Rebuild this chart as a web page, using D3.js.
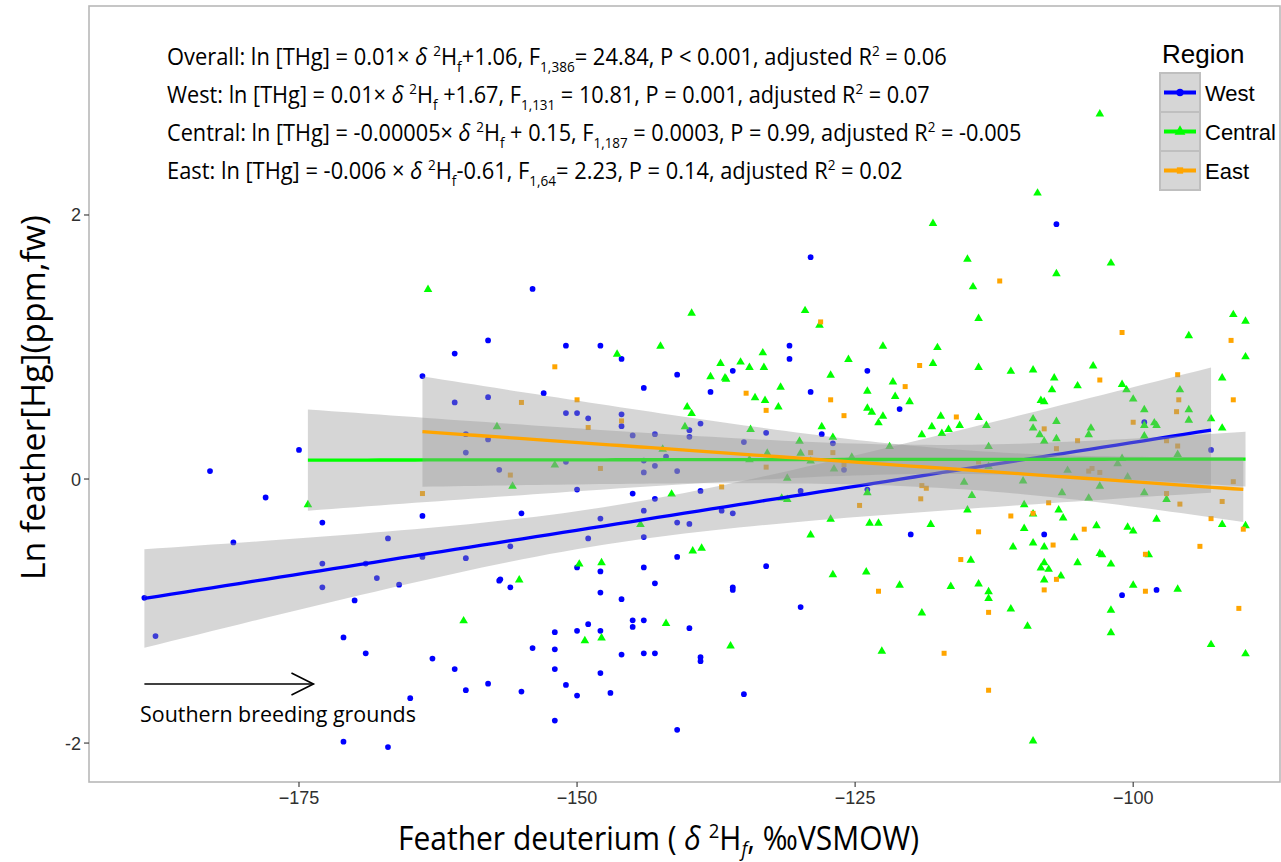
<!DOCTYPE html>
<html><head><meta charset="utf-8">
<script src="https://cdn.jsdelivr.net/npm/d3@7"></script>
<style>body{margin:0;background:#fff} svg{display:block}</style>
</head><body>
<svg id="chart" width="1281" height="862"></svg>
<script>
// ---------- data ----------
const regions = ["West", "Central", "East"];
const regionColors = ["#0000ff", "#00ff00", "#ffa500"];
const xTicks = [-175, -150, -125, -100];
const xTickLabels = ["\u2212175", "\u2212150", "\u2212125", "\u2212100"];
const yTicks = [-2, 0, 2];
const yTickLabels = ["-2", "0", "2"];

const westPoints = [
[-154.0,1.44],[-129.0,1.68],[-106.9,1.93],[-158.0,1.05],[-161.0,0.95],[-163.9,0.78],[-161.0,0.58],[-158.0,0.62],
[-160.0,0.34],[-158.0,0.30],[-160.0,0.20],[-157.0,0.07],[-175.0,0.22],[-183.0,0.06],[-178.0,-0.14],[-172.9,-0.33],
[-163.9,-0.28],[-167.0,-0.45],[-180.9,-0.48],[-172.9,-0.64],[-169.0,-0.64],[-163.9,-0.59],[-160.0,-0.60],[-168.0,-0.75],
[-166.0,-0.80],[-172.9,-0.82],[-170.0,-0.92],[-157.0,-0.77],[-188.9,-0.90],[-187.9,-1.19],[-171.0,-1.20],[-169.0,-1.32],
[-163.0,-1.36],[-161.0,-1.44],[-158.0,-1.55],[-160.0,-1.60],[-165.0,-1.66],[-171.0,-1.99],[-167.0,-2.03],[-151.0,1.01],
[-147.9,1.01],[-146.0,0.91],[-153.0,0.65],[-141.0,0.79],[-144.0,0.69],[-151.0,0.50],[-150.0,0.50],[-149.0,0.46],
[-146.0,0.49],[-146.0,0.40],[-138.9,0.42],[-139.9,0.37],[-139.9,0.32],[-145.0,0.33],[-143.0,0.34],[-142.0,0.17],
[-144.0,0.14],[-144.0,0.05],[-143.0,0.10],[-141.0,0.06],[-151.0,0.13],[-150.0,-0.08],[-145.0,-0.11],[-143.0,-0.15],
[-138.9,-0.09],[-155.0,-0.26],[-144.0,-0.24],[-147.9,-0.30],[-141.0,-0.33],[-139.9,-0.34],[-149.0,-0.45],[-144.0,-0.44],
[-137.0,-0.24],[-136.0,-0.26],[-135.0,0.28],[-133.0,0.35],[-136.0,0.82],[-138.0,0.66],[-130.9,1.01],[-130.9,0.91],
[-129.0,0.66],[-123.9,0.82],[-121.0,0.53],[-128.0,0.34],[-127.0,0.27],[-126.0,0.07],[-129.9,-0.09],[-123.9,-0.08],
[-156.0,-0.51],[-156.9,-0.76],[-156.0,-0.82],[-150.0,-0.67],[-147.9,-0.70],[-147.9,-0.86],[-144.0,-0.67],[-141.0,-0.59],
[-143.0,-0.79],[-146.0,-0.91],[-145.0,-1.07],[-144.0,-1.07],[-145.0,-1.12],[-139.9,-1.13],[-152.0,-1.16],[-150.0,-1.15],
[-149.0,-1.10],[-147.9,-1.15],[-154.0,-1.28],[-152.0,-1.29],[-146.0,-1.33],[-144.0,-1.32],[-143.0,-1.32],[-138.9,-1.35],
[-138.9,-1.38],[-152.0,-1.44],[-147.9,-1.47],[-136.0,-0.82],[-136.0,-0.84],[-133.0,-0.66],[-129.9,-0.97],[-155.0,-1.61],
[-151.0,-1.56],[-150.0,-1.64],[-147.0,-1.62],[-135.0,-1.63],[-152.0,-1.83],[-141.0,-1.90],[-99.0,0.43],[-93.0,0.22],
[-120.0,-0.42],[-108.0,-0.42],[-101.0,-0.88],[-97.9,-0.84]
];

const centralPoints = [
[-163.4,1.44],[-103.0,2.77],[-108.6,2.17],[-118.0,1.94],[-114.9,1.67],[-102.0,1.64],[-106.9,1.56],[-114.4,1.46],
[-157.2,0.40],[-174.2,-0.19],[-160.2,-1.07],
[-139.7,1.26],[-129.5,1.28],[-128.2,1.17],[-146.4,0.95],[-142.5,1.01],[-140.1,0.55],[-139.7,0.50],[-140.3,0.40],
[-142.3,0.23],[-152.0,0.11],[-155.8,-0.05],[-141.5,-0.11],[-144.3,-0.34],[-134.4,0.38],[-132.9,0.20],[-134.5,0.15],
[-138.0,0.78],[-137.1,0.88],[-136.7,0.77],[-136.6,0.76],[-135.3,0.89],[-134.5,0.85],[-133.3,0.96],[-133.2,0.85],
[-134.0,0.62],[-133.1,0.60],[-131.9,0.55],[-131.7,0.70],[-125.6,0.91],[-122.5,1.01],[-127.2,0.79],[-123.9,0.67],
[-123.9,0.54],[-123.5,0.51],[-122.5,0.48],[-122.9,0.43],[-121.6,0.74],[-121.4,0.63],[-128.0,0.40],[-127.0,0.32],
[-130.0,0.29],[-129.9,0.20],[-129.0,0.14],[-125.3,0.17],[-126.9,0.08],[-121.9,0.25],[-131.1,0.01],[-123.9,-0.10],
[-131.6,-0.14],[-131.1,-0.15],[-127.2,-0.30],[-129.0,-0.42],[-123.7,-0.33],[-122.9,-0.33],
[-155.2,-0.76],[-149.8,-0.64],[-147.8,-0.63],[-139.6,-0.54],[-138.8,-0.52],[-142.0,-1.09],[-149.3,-1.22],[-147.8,-1.20],
[-136.2,-1.26],[-127.0,-0.72],[-124.0,-0.70],[-121.0,-0.80],[-122.6,-1.30],
[-113.9,1.22],[-95.0,1.09],[-91.0,1.25],[-89.9,1.20],[-89.9,0.93],[-117.6,1.00],[-118.0,0.88],[-113.9,0.85],
[-111.0,0.82],[-109.0,0.83],[-107.1,0.77],[-103.6,0.86],[-105.0,0.71],[-107.3,0.68],[-108.3,0.60],[-108.0,0.59],
[-101.0,0.72],[-100.6,0.68],[-100.0,0.61],[-95.8,0.68],[-92.0,0.77],[-95.0,0.53],[-95.0,0.45],[-93.0,0.46],
[-92.0,0.39],[-99.0,0.53],[-98.1,0.43],[-97.9,0.41],[-99.0,0.41],[-99.0,0.33],[-96.0,0.19],[-101.0,0.16],
[-101.4,0.12],[-100.5,0.02],[-99.0,-0.10],[-97.0,-0.15],[-92.0,-0.34],[-89.9,-0.35],[-120.1,0.59],[-117.3,0.48],
[-116.6,0.38],[-118.1,0.40],[-117.2,0.35],[-115.6,0.41],[-119.0,0.34],[-113.9,0.47],[-113.2,0.41],[-113.0,0.25],
[-109.0,0.46],[-109.0,0.39],[-106.9,0.44],[-108.4,0.34],[-106.9,0.31],[-108.0,0.29],[-103.8,0.39],[-104.0,0.34],
[-113.0,0.10],[-115.2,-0.02],[-114.5,-0.12],[-114.9,-0.23],[-109.9,-0.01],[-105.9,0.07],[-103.0,-0.05],[-106.4,-0.10],
[-104.0,-0.14],[-109.8,-0.19],[-106.7,-0.23],[-106.3,-0.29],[-109.0,-0.26],[-118.2,-0.34],[-109.8,-0.37],[-103.3,-0.35],
[-100.5,-0.36],[-100.0,-0.39],[-97.9,-0.30],[-105.3,-0.44],
[-110.8,-0.51],[-109.0,-0.48],[-108.0,-0.51],[-114.6,-0.61],[-108.0,-0.63],[-108.3,-0.67],[-107.6,-0.68],[-106.5,-0.73],
[-108.0,-0.76],[-105.0,-0.63],[-103.0,-0.56],[-102.8,-0.57],[-102.0,-0.64],[-98.6,-0.57],[-100.0,-0.80],[-96.0,-0.83],
[-116.4,-0.81],[-113.9,-0.79],[-113.0,-0.85],[-113.0,-0.90],[-111.0,-0.98],[-119.0,-1.01],[-109.5,-1.11],[-102.0,-0.99],
[-102.0,-1.16],[-93.0,-1.25],[-89.9,-1.32],[-109.0,-1.98]
];

const eastPoints = [
[-112.0,1.50],[-163.9,-0.11],[-128.1,1.19],[-152.0,0.85],[-150.0,0.60],[-155.0,0.58],[-149.0,0.39],[-146.0,0.44],
[-156.0,0.03],[-147.9,0.08],[-137.0,-0.06],[-133.0,0.09],[-134.8,0.65],[-133.0,0.52],[-127.2,0.60],[-126.0,0.48],
[-129.0,0.20],[-127.0,0.20],[-126.0,0.11],[-124.6,-0.20],[-122.9,-0.85],[-101.0,1.11],[-91.2,1.05],[-119.2,0.86],
[-103.0,0.75],[-96.0,0.79],[-95.9,0.60],[-91.0,0.60],[-96.1,0.51],[-100.0,0.43],[-97.0,0.29],[-96.0,0.25],
[-91.0,-0.02],[-97.0,-0.11],[-95.8,-0.19],[-92.0,-0.17],[-93.0,-0.30],[-90.1,-0.38],[-120.5,0.70],[-115.9,0.47],
[-108.0,0.38],[-105.0,0.29],[-106.9,0.23],[-113.9,0.13],[-119.0,-0.05],[-118.6,-0.07],[-119.1,-0.15],[-104.0,0.06],
[-103.7,0.08],[-103.0,0.05],[-107.6,-0.18],[-109.0,-0.26],[-111.0,-0.28],[-104.4,-0.38],[-113.9,-0.40],[-107.2,-0.50],
[-115.5,-0.61],[-106.9,-0.76],[-108.0,-0.84],[-98.9,-0.57],[-94.0,-0.51],[-98.9,-0.85],[-90.5,-0.98],[-113.0,-1.01],
[-117.0,-1.32],[-113.0,-1.60]
];

const groupPoints = [westPoints, centralPoints, eastPoints];

const equationLines = [
  [{t:"Overall: ln [THg] = 0.01\u00d7 "},{t:"\u03b4",it:1},{t:" "},{t:"2",sup:1},{t:"H"},{t:"f",sub:1},{t:"+1.06, F"},{t:"1,386",sub:1},{t:"= 24.84, P < 0.001, adjusted R"},{t:"2",sup:1},{t:" = 0.06"}],
  [{t:"West: ln [THg] = 0.01\u00d7 "},{t:"\u03b4",it:1},{t:" "},{t:"2",sup:1},{t:"H"},{t:"f",sub:1},{t:" +1.67, F"},{t:"1,131",sub:1},{t:" = 10.81, P = 0.001, adjusted R"},{t:"2",sup:1},{t:" = 0.07"}],
  [{t:"Central: ln [THg] = -0.00005\u00d7 "},{t:"\u03b4",it:1},{t:" "},{t:"2",sup:1},{t:"H"},{t:"f",sub:1},{t:" + 0.15, F"},{t:"1,187",sub:1},{t:" = 0.0003, P = 0.99, adjusted R"},{t:"2",sup:1},{t:" = -0.005"}],
  [{t:"East: ln [THg] = -0.006 \u00d7 "},{t:"\u03b4",it:1},{t:" "},{t:"2",sup:1},{t:"H"},{t:"f",sub:1},{t:"-0.61, F"},{t:"1,64",sub:1},{t:"= 2.23, P = 0.14, adjusted R"},{t:"2",sup:1},{t:" = 0.02"}]
];
const xTitleParts = [{t:"Feather deuterium ( "},{t:"\u03b4",it:1},{t:" "},{t:"2",sup:1},{t:"H"},{t:"f",sub:1,it:1},{t:", \u2030VSMOW)"}];
const yTitle = "Ln feather[Hg](ppm,fw)";
const arrowLabel = "Southern breeding grounds";
const arrowFrom = [-188.9, -1.553];
const arrowTo = [-173.7, -1.553];

// ---------- layout ----------
const svg = d3.select("#chart");
const P = {left: 89, right: 1280, top: 6, bottom: 782};
const x = d3.scaleLinear().domain([-193.88, -86.8]).range([P.left, P.right]);
const y = d3.scaleLinear().domain([-2.295, 3.583]).range([P.bottom, P.top]);
const EQFONT = "'Open Sans', 'Noto Sans', sans-serif";
const AXFONT = "'Liberation Sans', Arial, sans-serif";

svg.append("rect").attr("width",1281).attr("height",862).attr("fill","#fff");

// points
const shapes = [d3.symbolCircle, d3.symbolTriangle, d3.symbolSquare];
const sizes = [26, 32, 25];
const pts = svg.append("g");
groupPoints.forEach((arr, gi) => {
  pts.selectAll(null).data(arr).enter().append("path")
    .attr("d", d3.symbol().type(shapes[gi]).size(sizes[gi]))
    .attr("transform", d => `translate(${x(d[0])},${y(d[1]) + (gi===1?0.6:0)})`)
    .attr("fill", regionColors[gi]);
});

// linear fits with 95% confidence bands (computed from the points)
function qt975(df){
  const z = 1.959964;
  return z + (z*z*z + z)/(4*df) + (5*Math.pow(z,5) + 16*z*z*z + 3*z)/(96*df*df);
}
function fit(arr){
  const n = arr.length;
  const mx = d3.mean(arr, d=>d[0]), my = d3.mean(arr, d=>d[1]);
  let sxx=0, sxy=0;
  arr.forEach(d=>{sxx += (d[0]-mx)**2; sxy += (d[0]-mx)*(d[1]-my);});
  const b = sxy/sxx, a = my - b*mx;
  let sse = 0; arr.forEach(d=>{sse += (d[1]-a-b*d[0])**2;});
  const s = Math.sqrt(sse/(n-2)), t = qt975(n-2);
  const [x0,x1] = d3.extent(arr, d=>d[0]);
  return d3.range(80).map(i=>{
    const xv = x0 + (x1-x0)*i/79;
    const yv = a + b*xv;
    const se = s*Math.sqrt(1/n + (xv-mx)**2/sxx);
    return {x:xv, y:yv, lo:yv - t*se, hi:yv + t*se};
  });
}
const smooth = svg.append("g");
groupPoints.forEach((arr, gi) => {
  const pred = fit(arr);
  smooth.append("path").datum(pred)
    .attr("d", d3.area().x(d=>x(d.x)).y0(d=>y(d.lo)).y1(d=>y(d.hi)))
    .attr("fill", "#999999").attr("fill-opacity", 0.4);
  smooth.append("path").datum(pred)
    .attr("d", d3.line().x(d=>x(d.x)).y(d=>y(d.y)))
    .attr("fill","none").attr("stroke", regionColors[gi]).attr("stroke-width", 3.3);
});

// panel border
svg.append("rect").attr("x",P.left).attr("y",P.top).attr("width",P.right-P.left).attr("height",P.bottom-P.top)
  .attr("fill","none").attr("stroke","#b8b8b8").attr("stroke-width",1.6);

// axes ticks
const ax = svg.append("g").style("font-family", AXFONT).style("font-size","18px").attr("fill","#303030");
xTicks.forEach((v,i)=>{
  ax.append("line").attr("x1",x(v)).attr("x2",x(v)).attr("y1",P.bottom).attr("y2",P.bottom+5).attr("stroke","#333").attr("stroke-width",1.1);
  ax.append("text").attr("x",x(v)).attr("y",804).attr("text-anchor","middle").text(xTickLabels[i]);
});
yTicks.forEach((v,i)=>{
  ax.append("line").attr("x1",P.left-5).attr("x2",P.left).attr("y1",y(v)).attr("y2",y(v)).attr("stroke","#333").attr("stroke-width",1.1);
  ax.append("text").attr("x",P.left-8).attr("y",y(v)+6.5).attr("text-anchor","end").text(yTickLabels[i]);
});

// rich text helper: builds text from parts, then stretches it to the target width
function richText(parent, parts, size, font, subShift){
  const sub = subShift === undefined ? 0.3 : subShift;
  const t = parent.append("text").attr("x",0).attr("y",0)
    .style("font-family", font).style("font-size", size+"px").attr("fill","#000");
  let prev = 0;
  parts.forEach(p=>{
    const shift = p.sub ? sub : (p.sup ? -0.38 : 0);
    const ts = t.append("tspan").text(p.t).attr("dy", (shift-prev)*size);
    if (p.sub || p.sup) ts.style("font-size", (size*0.62)+"px");
    if (p.it) ts.style("font-style","italic");
    prev = shift;
  });
  return t;
}
function placeText(t, x0, yb, width){
  const bb = t.node().getBBox();
  const sx = width / bb.width;
  t.attr("transform", `translate(${x0 - bb.x*sx},${yb}) scale(${sx},1)`);
}

// equations
const eqTargets = [[167,947,65],[167,930,103],[167,1022,141],[167,903,179]];
equationLines.forEach((parts,i)=>{
  const t = richText(svg, parts, 24, EQFONT);
  placeText(t, eqTargets[i][0], eqTargets[i][2], eqTargets[i][1]-eqTargets[i][0]);
});

// arrow annotation
const ag = svg.append("g").attr("stroke","#000").attr("stroke-width",1.6).attr("fill","none");
const ax0 = x(arrowFrom[0]), ay0 = y(arrowFrom[1]), ax1 = x(arrowTo[0]), ay1 = y(arrowTo[1]);
ag.append("line").attr("x1",ax0).attr("y1",ay0).attr("x2",ax1).attr("y2",ay1);
ag.append("path").attr("d", `M${ax1-22},${ay1-11}L${ax1},${ay1}L${ax1-22},${ay1+11}`);
const st = svg.append("text").style("font-family",EQFONT).style("font-size","22px").attr("fill","#000").text(arrowLabel);
placeText(st, 140, 722, 276);

// axis titles
const xt = richText(svg, xTitleParts, 32, EQFONT, 0.2);
placeText(xt, 398, 850, 521);
const ytg = svg.append("g").attr("transform","translate(45,580) rotate(-90)");
const yt = ytg.append("text").style("font-family",EQFONT).style("font-size","32px").attr("fill","#000").text(yTitle);
{
  const bb = yt.node().getBBox();
  const sx = 365/bb.width;
  yt.attr("transform", `translate(${-bb.x*sx},0) scale(${sx},1)`);
}

// legend
const lg = svg.append("g");
lg.append("text").attr("x",1162).attr("y",63).style("font-family",AXFONT).style("font-size","26px").attr("fill","#000").text("Region");
regions.forEach((r,i)=>{
  const ky = 73 + i*39;
  lg.append("rect").attr("x",1160).attr("y",ky).attr("width",40).attr("height",39)
    .attr("fill","#d6d6d6").attr("stroke","#bfbfbf").attr("stroke-width",2);
  lg.append("line").attr("x1",1164).attr("x2",1196).attr("y1",ky+19.5).attr("y2",ky+19.5)
    .attr("stroke",regionColors[i]).attr("stroke-width",4);
  lg.append("path").attr("d", d3.symbol().type(shapes[i]).size(sizes[i]*1.6))
    .attr("transform",`translate(1180,${ky+19.5})`).attr("fill",regionColors[i]);
  lg.append("text").attr("x",1205).attr("y",ky+27.5).style("font-family",AXFONT).style("font-size","22px")
    .attr("fill","#000").text(r);
});
</script>
</body></html>
